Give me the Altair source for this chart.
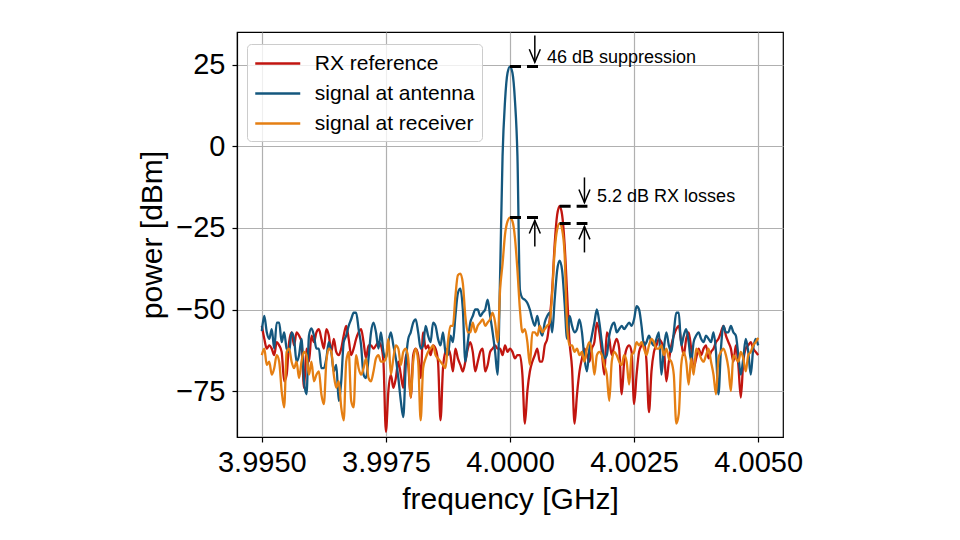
import altair as alt
import pandas as pd

FONT = "Liberation Sans, Arial, Helvetica, sans-serif"

# frequency grid (GHz)
freq_start = 3.995
freq_step = 0.00005
n_points = 201
freqs = [round(freq_start + freq_step * k, 6) for k in range(n_points)]

rx_reference = [
    -55, -59, -62, -61, -62, -64, -60, -61, -63, -72,
    -70, -60, -57, -61, -57, -58, -60, -74, -62, -66,
    -58, -60, -57, -56, -59, -62, -56, -58, -63, -59,
    -63, -64, -62, -58, -55, -59, -64, -62, -59, -57,
    -56, -60, -65, -61, -61, -62, -61, -60, -61, -66,
    -87.5, -75, -70, -74, -71, -66, -70, -74, -64, -67,
    -77, -64, -62, -64, -71, -57, -62, -61, -64, -61,
    -62, -66, -84, -68, -63, -62, -64, -69, -62, -65,
    -67, -69, -66, -62, -60, -63, -69, -66, -63, -62,
    -69, -67, -63, -62, -61, -62, -62, -64, -61, -63,
    -62, -63, -65, -64, -64, -70, -85, -75, -69, -66,
    -64, -62, -66, -66, -61, -59, -53, -44, -30, -21,
    -18.3, -21, -30, -45, -60, -68, -85, -76, -69, -65,
    -62, -64, -66, -62, -60, -54, -57, -63, -70, -57,
    -59, -64, -61, -59, -62, -76, -66, -62, -61, -63,
    -79, -70, -63, -61, -60, -66, -81.5, -69, -63, -61,
    -59, -60, -62, -72, -66, -61, -58, -56, -55, -60,
    -64, -59, -57, -62, -68, -65, -62, -64, -62, -61,
    -65, -63, -62, -60, -59, -57, -55, -58, -60, -62,
    -66, -61, -67, -77, -66, -62, -61, -60, -62, -63,
    -64,
]

signal_antenna = [
    -56.6, -52, -57, -59, -56, -62, -54, -54, -60, -57,
    -62, -63, -57, -59, -66, -64, -59, -72, -76, -58,
    -55.8, -58, -62, -62, -68, -68, -65, -60, -63, -69,
    -67, -78, -72, -60, -58, -55, -53, -51, -51, -56,
    -61, -70, -71, -65, -57, -54, -57, -62, -57, -63,
    -65, -60, -57, -61, -65, -71, -78, -83, -67, -59,
    -57, -54, -53, -57, -62, -61, -55, -58, -60, -54,
    -55, -59, -61, -57, -63, -64, -58, -60, -52, -45,
    -43.6, -50, -66, -60, -54, -52, -50, -50, -52, -51,
    -50, -47, -52, -57, -63, -70, -40, -3, 14, 22.5,
    24.5, 22.5, 14, -3, -44, -46.5, -47, -48, -50, -53,
    -55, -52, -56, -58, -54, -52, -51, -57, -47, -38,
    -35, -38, -48, -59, -52, -55, -57, -56, -53, -57,
    -65, -69, -62, -58, -54, -50, -54, -60, -65, -64,
    -58, -55, -54, -57, -56, -55, -56, -55, -54, -55,
    -53, -49, -50, -55, -61, -60, -58, -60, -61, -59,
    -57, -70, -62, -57, -61, -63, -57, -51, -51, -61,
    -58, -56, -60, -66, -60, -58, -57, -59, -60, -58,
    -59, -60, -57, -63, -76, -62, -55, -57, -57, -55,
    -57, -58, -64, -70, -65, -59, -63, -70, -62, -59,
    -61,
]

signal_receiver = [
    -64, -62, -67, -66, -70, -68, -64, -66, -75, -80,
    -63, -62, -66, -68, -66, -71, -66, -63, -64, -70,
    -66, -72, -70, -69, -76, -79, -66, -62, -63, -70,
    -74, -72, -80, -84, -66, -63, -78, -80, -64, -68,
    -70, -68, -65, -71, -72, -69, -65, -64, -66, -66,
    -65, -59, -70, -65, -61, -62, -67, -63, -62, -65,
    -77, -66, -62, -66, -84, -68, -65, -63, -62, -61,
    -64, -65, -66, -67, -68, -60, -55, -55, -46, -39.5,
    -39, -42, -52, -57, -57, -54, -57, -55, -54, -53,
    -55, -54, -53, -51, -54, -60, -44, -36, -27, -23,
    -21.8, -23, -28, -38, -50, -57, -56, -60, -67, -57,
    -57, -58, -55, -57, -56, -55, -54, -45, -32, -25.5,
    -23.6, -25.5, -33, -55, -61, -61, -63, -62, -64, -63,
    -66, -62, -60, -63, -70, -64, -63, -64, -67, -70,
    -78, -66, -63, -64, -66, -67, -64, -66, -73, -64,
    -63, -60, -61, -60, -62, -64, -61, -59, -60, -62,
    -62, -61, -64, -62, -65, -66, -70, -85, -82, -67,
    -63, -66, -73, -65, -70, -62, -63, -65, -66, -64,
    -62, -66, -70, -76, -65, -63, -62, -64, -68, -75,
    -64, -65, -66, -63, -65, -69, -64, -63, -61, -60,
    -58.7,
]

series_names = ["RX reference", "signal at antenna", "signal at receiver"]
series_colors = ["#C1150F", "#14577E", "#E57F13"]

x_ticks = [3.995, 3.9975, 4.0, 4.0025, 4.005]
y_ticks = [-75, -50, -25, 0, 25]

# annotation values (data units)
dash_x_start = [4.0, 4.0, 4.001, 4.001]
dash_x_end = [4.00057, 4.00057, 4.00156, 4.00156]
dash_y = [24.5, -21.8, -18.3, -23.6]

arrow_x = [4.0005, 4.0005, 4.0015, 4.0015]
arrow_tail = [34.0, -30.7, -9.5, -32.5]
arrow_tip = [25.8, -22.7, -17.2, -24.5]
arrow_dir = ["down", "up", "down", "up"]

ann_text = ["46 dB suppression", "5.2 dB RX losses"]
ann_x = [4.000746, 4.001754]
ann_y = [27.0, -15.6]

rows = []
for name, vals in zip(series_names, [rx_reference, signal_antenna, signal_receiver]):
    assert len(vals) == n_points, (name, len(vals))
    for f, v in zip(freqs, vals):
        rows.append({"frequency": f, "power": v, "series": name})
df = pd.DataFrame(rows)

dash_df = pd.DataFrame({"x": dash_x_start, "x2": dash_x_end, "y": dash_y})
arrow_df = pd.DataFrame({"x": arrow_x, "tail": arrow_tail, "tip": arrow_tip, "dir": arrow_dir})
text_df = pd.DataFrame({"x": ann_x, "y": ann_y, "label": ann_text})

x_scale = alt.Scale(domain=[3.9945, 4.0055], nice=False, zero=False)
y_scale = alt.Scale(domain=[-89.1, 35.1], nice=False, zero=False)
color_scale = alt.Scale(domain=series_names, range=series_colors)

x_axis = alt.Axis(title="frequency [GHz]", values=x_ticks, format=".4f", grid=True,
                  tickSize=5, labelPadding=6, titlePadding=7, labelFlush=False,
                  labelOverlap=False)
y_axis = alt.Axis(title="power [dBm]", values=y_ticks, grid=True, tickSize=5,
                  labelPadding=7, titlePadding=8, labelOverlap=False)

legend = alt.Legend(title=None, orient="none", legendX=10, legendY=12,
                    symbolType="M-2,0H2", symbolSize=506, symbolStrokeWidth=2.3,
                    symbolOffset=11.25, labelOffset=24.5,
                    labelFontSize=21, labelFont=FONT, labelColor="black",
                    fillColor="rgba(255,255,255,0.8)", strokeColor="#cccccc",
                    cornerRadius=4, padding=7, rowPadding=7, labelLimit=400)

X = alt.X("frequency:Q", scale=x_scale, axis=x_axis)
Y = alt.Y("power:Q", scale=y_scale, axis=y_axis)


def line_layer(name):
    return alt.Chart(df).transform_filter(alt.datum.series == name).mark_line(
        strokeWidth=2.3, interpolate="monotone", clip=True
    ).encode(
        x=X,
        y=Y,
        color=alt.Color("series:N", scale=color_scale, legend=legend),
    )


lines = [line_layer(n) for n in series_names]

dashes = alt.Chart(dash_df).mark_rule(color="black", strokeWidth=3, strokeDash=[11, 6]).encode(
    x=alt.X("x:Q", scale=x_scale, axis=x_axis),
    x2="x2:Q",
    y=alt.Y("y:Q", scale=y_scale, axis=y_axis),
)

shafts = alt.Chart(arrow_df).mark_rule(color="black", strokeWidth=1.5).encode(
    x=alt.X("x:Q", scale=x_scale, axis=x_axis),
    y=alt.Y("tail:Q", scale=y_scale, axis=y_axis),
    y2="tip:Q",
)

heads_down = alt.Chart(arrow_df).transform_filter(alt.datum.dir == "down").mark_point(
    shape="M-0.85,-2L0,0L0.85,-2", size=169, filled=False, color="black",
    strokeWidth=1.5, opacity=1
).encode(
    x=alt.X("x:Q", scale=x_scale, axis=x_axis),
    y=alt.Y("tip:Q", scale=y_scale, axis=y_axis),
)

heads_up = alt.Chart(arrow_df).transform_filter(alt.datum.dir == "up").mark_point(
    shape="M-0.85,2L0,0L0.85,2", size=169, filled=False, color="black",
    strokeWidth=1.5, opacity=1
).encode(
    x=alt.X("x:Q", scale=x_scale, axis=x_axis),
    y=alt.Y("tip:Q", scale=y_scale, axis=y_axis),
)

texts = alt.Chart(text_df).mark_text(align="left", baseline="middle", fontSize=18,
                                     font=FONT, color="black").encode(
    x=alt.X("x:Q", scale=x_scale, axis=x_axis),
    y=alt.Y("y:Q", scale=y_scale, axis=y_axis),
    text="label:N",
)

chart = alt.layer(*lines, dashes, shafts, heads_down, heads_up, texts).properties(
    width=546,
    height=405,
    autosize=alt.AutoSizeParams(type="none"),
    padding={"left": 237, "top": 32, "right": 177, "bottom": 103},
    background="white",
).configure_axis(
    labelFont=FONT, titleFont=FONT, labelFontSize=29, titleFontSize=30,
    titleFontWeight="normal", labelColor="black", titleColor="black",
    tickColor="black", domainColor="black", gridColor="#b0b0b0",
    gridWidth=1.2, domainWidth=1.2, tickWidth=1.2,
).configure_view(stroke="black", strokeWidth=1.2)

chart.save("out.html", embed_options={"renderer": "svg", "actions": False})
